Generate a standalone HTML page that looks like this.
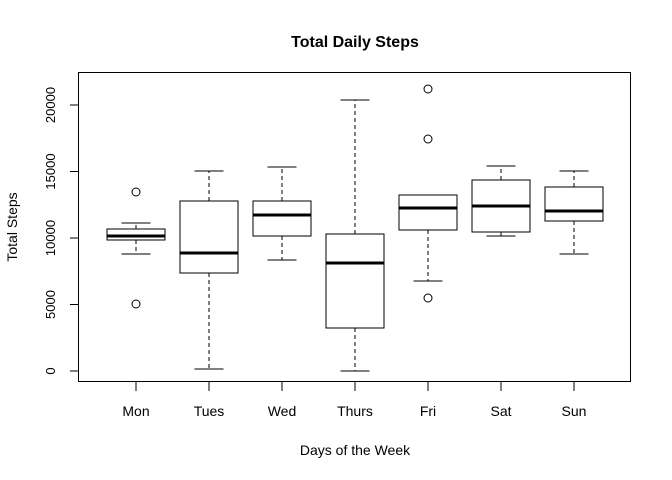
<!DOCTYPE html>
<html><head><meta charset="utf-8"><style>
body{margin:0;background:#fff}
svg{display:block;font-family:"Liberation Sans",sans-serif}
</style></head><body>
<svg id="chart" width="672" height="480" viewBox="0 0 672 480" xmlns="http://www.w3.org/2000/svg">
<rect width="672" height="480" fill="#fff"/>
<text x="355" y="47" text-anchor="middle" font-size="16" font-weight="bold">Total Daily Steps</text>
<rect x="78.5" y="72.5" width="552" height="309" fill="none" stroke="#000" stroke-width="1"/>
<text x="355" y="455" text-anchor="middle" font-size="14">Days of the Week</text>
<text transform="translate(17,227) rotate(-90)" text-anchor="middle" font-size="14">Total Steps</text>
<g id="marks"></g>
</svg>
<script>
const categories=["Mon","Tues","Wed","Thurs","Fri","Sat","Sun"];
const whiskerLow=[8797,150,8346,0,6767,10150,8797];
const q1=[9850,7368,10150,3233,10602,10451,11278];
const medians=[10150,8872,11729,8120,12256,12406,12030];
const q3=[10677,12782,12782,10301,13233,14361,13835];
const whiskerHigh=[11128,15038,15338,20376,13233,15414,15038];
const outliers=[[13459,5038],[],[],[],[21203,17444,5489],[],[]];
const yTicks=[0,5000,10000,15000,20000];

const NS="http://www.w3.org/2000/svg";
const g=document.getElementById('marks');
const y=v=>371-v/20000*266;
const x=i=>136+i*73;
const bw=58;
function mk(t,a){const e=document.createElementNS(NS,t);for(const k in a)e.setAttribute(k,a[k]);g.appendChild(e);return e;}
yTicks.forEach(t=>{
  const l=mk('line',{x1:70,x2:78.5,y1:y(t),y2:y(t),stroke:'#000'});
  
  
  const tx=mk('text',{transform:`translate(55,${y(t)}) rotate(-90)`,'text-anchor':'middle','font-size':13});
  tx.textContent=t;
  
  
});
categories.forEach((c,i)=>{
  const cx=x(i);
  const tk=mk('line',{x1:cx,x2:cx,y1:381.5,y2:391,stroke:'#000'});
  
  
  const tl=mk('text',{x:cx,y:416,'text-anchor':'middle','font-size':14});
  tl.textContent=c;
  
  
  const grp=document.createElementNS(NS,'g');g.appendChild(grp);
  
  
  const add=(t,a)=>{const e=document.createElementNS(NS,t);for(const k in a)e.setAttribute(k,a[k]);grp.appendChild(e);return e;};
  add('line',{x1:cx,x2:cx,y1:y(q3[i]),y2:y(whiskerHigh[i]),stroke:'#000','stroke-dasharray':'4,3'});
  add('line',{x1:cx,x2:cx,y1:y(q1[i]),y2:y(whiskerLow[i]),stroke:'#000','stroke-dasharray':'4,3'});
  add('line',{x1:cx-bw/4,x2:cx+bw/4,y1:y(whiskerHigh[i]),y2:y(whiskerHigh[i]),stroke:'#000'});
  add('line',{x1:cx-bw/4,x2:cx+bw/4,y1:y(whiskerLow[i]),y2:y(whiskerLow[i]),stroke:'#000'});
  add('rect',{x:cx-bw/2,y:y(q3[i]),width:bw,height:y(q1[i])-y(q3[i]),fill:'#fff',stroke:'#000'});
  add('line',{x1:cx-bw/2,x2:cx+bw/2,y1:y(medians[i]),y2:y(medians[i]),stroke:'#000','stroke-width':3});
  outliers[i].forEach(o=>{
    const p=mk('circle',{cx:cx,cy:y(o),r:4,fill:'none',stroke:'#000'});
    
    
  });
});
</script>
</body></html>
